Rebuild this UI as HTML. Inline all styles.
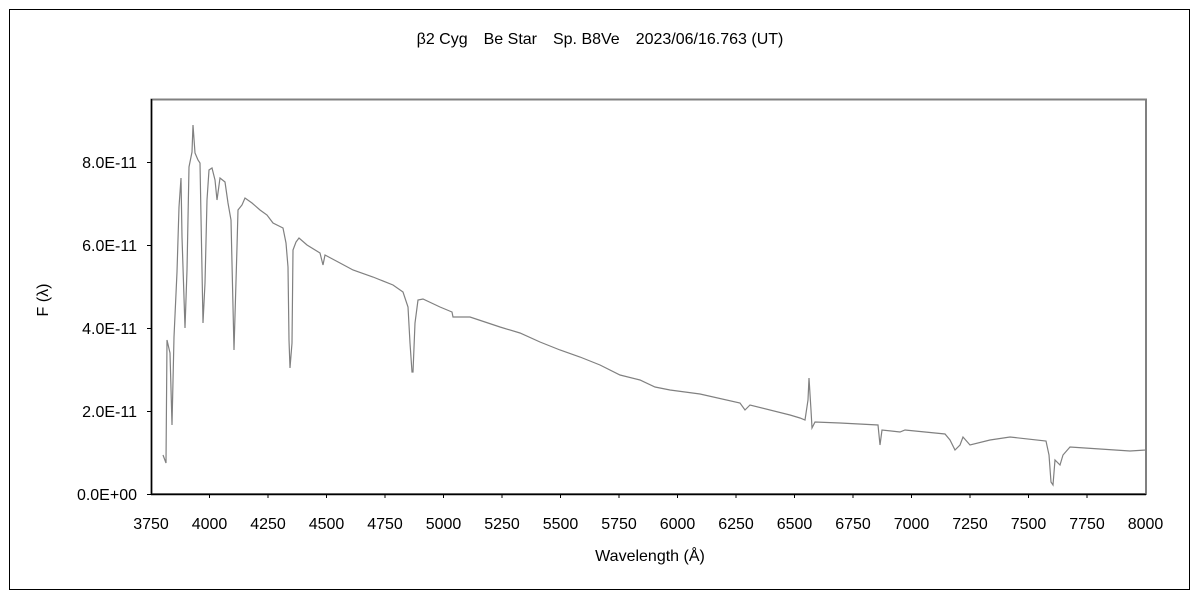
<!DOCTYPE html>
<html><head><meta charset="utf-8"><style>
body{margin:0;background:#fff;}
svg text{font-family:"Liberation Sans","Noto Sans CJK JP",sans-serif;font-size:16px;fill:#000;}
</style></head><body>
<svg width="1200" height="600" viewBox="0 0 1200 600" xmlns="http://www.w3.org/2000/svg">
<rect x="9.5" y="9.5" width="1180" height="580" fill="#fff" stroke="#000" stroke-width="1"/>
<text x="600" y="44" text-anchor="middle">β2 Cyg　Be Star　Sp. B8Ve　2023/06/16.763 (UT)</text>
<rect x="151.5" y="99.5" width="994.5" height="394.5" fill="#fff" stroke="#808080" stroke-width="2"/>
<line x1="151.5" y1="99" x2="151.5" y2="495" stroke="#000" stroke-width="1.5"/>
<line x1="151" y1="494.5" x2="1146" y2="494.5" stroke="#000" stroke-width="1.5"/>
<g stroke="#000" stroke-width="1">
<line x1="147" y1="494.5" x2="151" y2="494.5"/><line x1="147" y1="411.5" x2="151" y2="411.5"/><line x1="147" y1="328.5" x2="151" y2="328.5"/><line x1="147" y1="245.5" x2="151" y2="245.5"/><line x1="147" y1="162.5" x2="151" y2="162.5"/>
</g>
<g text-anchor="end">
<text x="137" y="500">0.0E+00</text><text x="137" y="417">2.0E-11</text><text x="137" y="334">4.0E-11</text><text x="137" y="251">6.0E-11</text><text x="137" y="168">8.0E-11</text>
</g>
<g stroke="#000" stroke-width="1" id="xt"></g>
<g text-anchor="middle">
<text x="151" y="529">3750</text><text x="209.5" y="529">4000</text><text x="268" y="529">4250</text><text x="326.5" y="529">4500</text><text x="385" y="529">4750</text><text x="443.5" y="529">5000</text><text x="502" y="529">5250</text><text x="560.5" y="529">5500</text><text x="619" y="529">5750</text><text x="677.5" y="529">6000</text><text x="736" y="529">6250</text><text x="794.5" y="529">6500</text><text x="853" y="529">6750</text><text x="911.5" y="529">7000</text><text x="970" y="529">7250</text><text x="1028.5" y="529">7500</text><text x="1087" y="529">7750</text><text x="1145.5" y="529">8000</text>
</g>
<g stroke="#000" stroke-width="1">
<line x1="209.5" y1="494" x2="209.5" y2="498"/><line x1="268" y1="494" x2="268" y2="498"/><line x1="326.5" y1="494" x2="326.5" y2="498"/><line x1="385" y1="494" x2="385" y2="498"/><line x1="443.5" y1="494" x2="443.5" y2="498"/><line x1="502" y1="494" x2="502" y2="498"/><line x1="560.5" y1="494" x2="560.5" y2="498"/><line x1="619" y1="494" x2="619" y2="498"/><line x1="677.5" y1="494" x2="677.5" y2="498"/><line x1="736" y1="494" x2="736" y2="498"/><line x1="794.5" y1="494" x2="794.5" y2="498"/><line x1="853" y1="494" x2="853" y2="498"/><line x1="911.5" y1="494" x2="911.5" y2="498"/><line x1="970" y1="494" x2="970" y2="498"/><line x1="1028.5" y1="494" x2="1028.5" y2="498"/><line x1="1087" y1="494" x2="1087" y2="498"/>
</g>
<text x="650" y="561" text-anchor="middle">Wavelength (Å)</text>
<text transform="translate(48,300) rotate(-90)" text-anchor="middle">F (λ)</text>
<polyline fill="none" stroke="#808080" stroke-width="1.2" points="163,455 166,463 167,340 170,353 172,425 174,337 177,272 179,207 181,178 182,237 185,328 187,270 189,167 192,152 193,125 195,153 198,160 200,163 201,217 203,323 205,283 207,200 209,170 212,168 215,180 217,200 220,178 225,182 228,203 231,220 234,350 237,247 238,210 242,205 245,198 252,203 260,210 267,215 273,223 283,228 286,243 288,267 289,340 290,368 292,343 293,250 296,242 299,238 307,245 320,253 323,265 325,255 340,263 353,270 373,277 393,285 403,292 408,307 410,343 412,372 413,372 415,323 418,300 423,299 440,307 452,312 453,317 470,317 485,322 500,327 520,333 540,342 560,350 580,357 600,365 620,375 640,380 655,387 670,390 700,394 740,403 745,410 750,405 790,415 800,418 805,420 808,400 809,378 811,410 812,428 815,422 840,423 878,425 880,445 882,430 900,432 905,430 945,434 950,440 955,450 960,445 963,437 970,445 990,440 1010,437 1046,441 1049,455 1051,482 1053,485 1055,460 1060,465 1063,455 1070,447 1100,449 1130,451 1146,450"/>
</svg>
</body></html>
